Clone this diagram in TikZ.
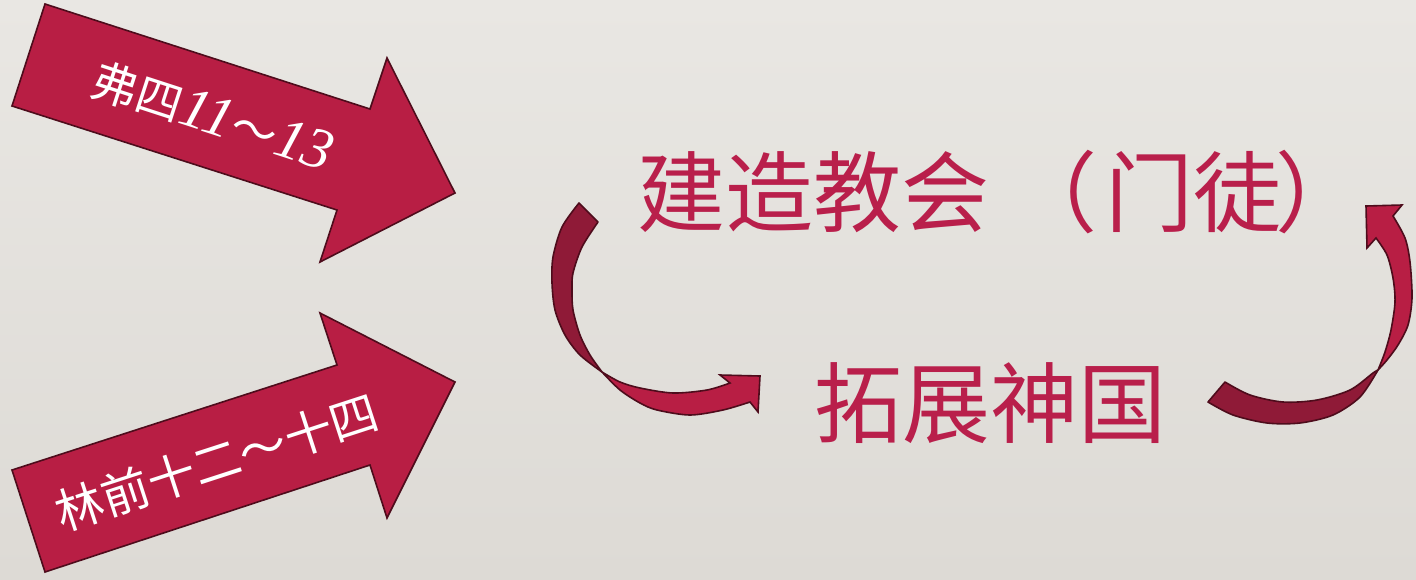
\documentclass[tikz,border=0pt]{standalone}
\usepackage{fontspec}
\newfontfamily\cjk{Noto Sans CJK SC}
\newfontfamily\serifit{Liberation Serif}
\definecolor{arrowred}{HTML}{B81E44}
\definecolor{backred}{HTML}{8F1A37}
\definecolor{edgecol}{HTML}{4E0C1C}
\definecolor{textred}{HTML}{B91F4B}
\definecolor{bgtop}{HTML}{E9E7E3}
\definecolor{bgbot}{HTML}{DDDAD5}
\newcommand{\bignum}[1]{{\serifit\itshape\fontsize{58}{60}\selectfont #1}}
\begin{document}
\begin{tikzpicture}[x=1pt,y=-1pt,
  fatarrow/.style={fill=arrowred, draw=edgecol, line width=1.6pt, line join=miter},
  backband/.style={fill=backred, draw=edgecol, line width=1.6pt, line join=round},
  frontband/.style={fill=arrowred, draw=edgecol, line width=1.6pt, line join=miter},
  arrowtext/.style={text=white, font=\cjk\fontsize{46}{50}\selectfont, inner sep=0pt},
  maintext/.style={text=textred, font=\cjk\fontsize{88}{92}\selectfont, inner sep=0pt}]
\useasboundingbox (0,0) rectangle (1416,579);
\shade[top color=bgtop, bottom color=bgbot] (0,0) rectangle (1416,579);

% top straight arrow
\draw[fatarrow] (45,4) -- (370,109) -- (387,58) -- (455,193) -- (320,262) -- (337,210) -- (12,106) -- cycle;
\node[arrowtext, rotate=-18] (eph) at (213,116) {弗四\bignum{11}～\bignum{13}};

% bottom straight arrow
\draw[fatarrow] (45,572) -- (370,465) -- (387,518) -- (455,382) -- (320,313) -- (337,365) -- (12,470) -- cycle;
\node[arrowtext, rotate=18, font=\cjk\fontsize{48}{52}\selectfont] (cor) at (217,462) {林前十二～十四};

% main texts
\node[maintext, anchor=west] (church) at (637,192) {建造教会\hspace{20pt}（\hspace{8pt}门徒\hspace{-6pt}）};
\node[maintext] (kingdom) at (990,403) {拓展神国};

% left curved arrow: back band
\draw[backband] plot[smooth] coordinates {(579,203) (562,227) (553,257) (552,283) (555,310) (565,335) (580,355) (602,372)}
  -- plot[smooth] coordinates {(602,372) (590,355) (580,335) (573,310) (572,290) (573,273) (582,247) (598,222)} -- cycle;
% left curved arrow: front band with head
\draw[frontband] plot[smooth] coordinates {(602,372) (620,382) (640,388) (673,393) (707,390) (730,383)}
  -- (720,375) -- (760,376) -- (758,412) -- (750,402)
  -- plot[smooth] coordinates {(750,402) (723,410) (690,415) (657,410) (640,403) (620,390) (602,372)} -- cycle;

% right curved arrow: back band
\draw[backband] plot[smooth] coordinates {(1378,370) (1373,373) (1350,390) (1317,400) (1283,402) (1250,395) (1225,382)}
  -- (1208,402)
  -- plot[smooth] coordinates {(1208,402) (1233,415) (1267,423) (1300,423) (1333,415) (1360,397) (1378,370)} -- cycle;
% right curved arrow: front band with head
\draw[frontband] plot[smooth] coordinates {(1378,370) (1387,360) (1398,345) (1408,325) (1412,298) (1410,262) (1405,238) (1393,216)}
  -- (1402,205) -- (1366,206) -- (1367,248) -- (1376,238)
  -- plot[smooth] coordinates {(1376,238) (1387,255) (1393,278) (1395,302) (1391,330) (1385,352) (1378,370)} -- cycle;
\end{tikzpicture}
\end{document}
